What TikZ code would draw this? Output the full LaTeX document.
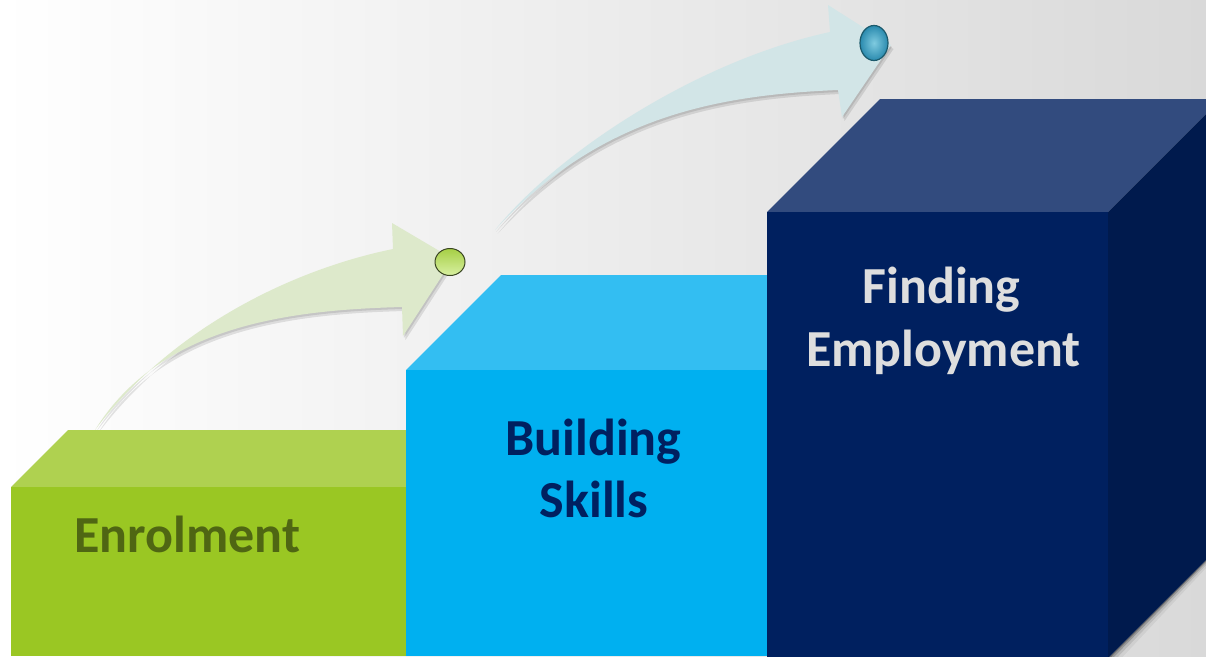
\documentclass[tikz,border=0pt]{standalone}
\usepackage{fontspec}
\setmainfont{Carlito}
\definecolor{bgR}{HTML}{D9D9D9}
\definecolor{gFront}{HTML}{9AC723}
\definecolor{gTop}{HTML}{AFD150}
\definecolor{gText}{HTML}{4F6613}
\definecolor{bFront}{HTML}{00B0F0}
\definecolor{bTop}{HTML}{33BEF2}
\definecolor{bText}{HTML}{002060}
\definecolor{dFront}{HTML}{00205F}
\definecolor{dTop}{HTML}{324B7E}
\definecolor{dSide}{HTML}{001A4D}
\definecolor{dText}{HTML}{DEDEDE}
\definecolor{arrG}{HTML}{DDE9CB}
\definecolor{arrB}{HTML}{D2E5E7}
\definecolor{ballGt}{HTML}{A6CF45}
\definecolor{ballGb}{HTML}{D8F0A2}
\definecolor{ballGl}{HTML}{3A4622}
\definecolor{ballBi}{HTML}{7FCBE0}
\definecolor{ballBo}{HTML}{2A8AAE}
\definecolor{ballBl}{HTML}{1C5A6C}
\tikzset{
  label/.style={font=\bfseries\fontsize{52}{63}\selectfont, inner sep=0pt, anchor=base},
  arrshadow/.style={fill=black, opacity=0.10},
}
\begin{document}
\begin{tikzpicture}[x=1pt,y=-1pt]
\useasboundingbox (0,0) rectangle (1206,656);
\shade[left color=white,right color=bgR] (0,0) rectangle (1206,656);

% ---- green arrow ----
\def\greenarrow{(95,430) .. controls (170,330) and (290,270) .. (393,249)
  -- (392,223) -- (453,259) -- (403,336) -- (402,307)
  .. controls (290,310) and (160,325) .. (95,430) -- cycle}
\fill[arrshadow,shift={(1,2)}] \greenarrow;
\fill[arrshadow,shift={(2.5,4)}] \greenarrow;
\fill[arrG] \greenarrow;

% ---- blue arrow ----
\def\bluearrow{(495,230) .. controls (560,150) and (700,60) .. (830,32)
  -- (828,5) -- (891,45) -- (842,117) -- (838,90)
  .. controls (720,95) and (600,115) .. (495,230) -- cycle}
\fill[arrshadow,shift={(1,2)}] \bluearrow;
\fill[arrshadow,shift={(2.5,4)}] \bluearrow;
\fill[arrB] \bluearrow;

% ---- green block ----
\fill[gTop] (11,487) -- (68,430) -- (406,430) -- (406,487) -- cycle;
\fill[gFront] (11,487) rectangle (406,656);

% ---- blue block ----
\fill[bTop] (406,370) -- (501,275) -- (767,275) -- (767,370) -- cycle;
\fill[bFront] (406,370) rectangle (767,656);

% ---- shadow of dark block ----
\foreach \o/\a in {1/0.30,2.5/0.18,4.5/0.10,7/0.05}{
  \fill[black,opacity=\a] (1108,658) -- (1221,545) -- (1221,545+\o) -- (1108+\o,658+\o) -- cycle;
}

% ---- dark block ----
\fill[dTop] (767,212) -- (880,99) -- (1221,99) -- (1108,212) -- cycle;
\fill[dSide] (1108,212) -- (1221,99) -- (1221,545) -- (1108,658) -- cycle;
\fill[dFront] (767,212) rectangle (1108,658);

% ---- balls ----
\shade[top color=ballGt,bottom color=ballGb,draw=ballGl,line width=1pt]
  (450,262) ellipse [x radius=15, y radius=13.5];
\shade[inner color=ballBi,outer color=ballBo,draw=ballBl,line width=1.2pt]
  (874,43) ellipse [x radius=14, y radius=17.5];

% ---- texts ----
\node[label,text=gText] (enrol) at (187.5,552) {Enrolment};
\node[label,text=bText] (build1) at (593.5,455) {Building};
\node[label,text=bText] (build2) at (594,517) {Skills};
\node[label,text=dText] (find1) at (941.5,303) {Finding};
\node[label,text=dText] (find2) at (943.5,366) {Employment};
\end{tikzpicture}
\end{document}
